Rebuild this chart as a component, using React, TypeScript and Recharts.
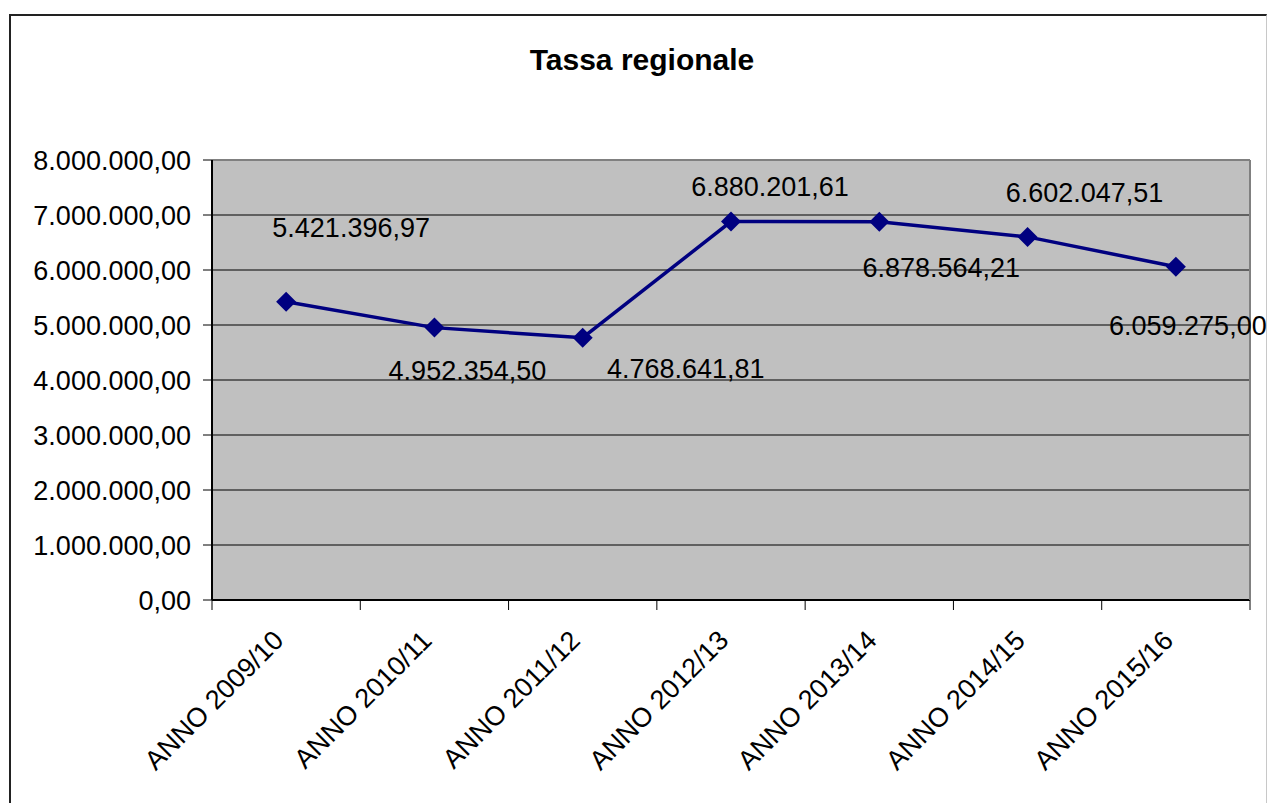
import React from "react";
import {
  LineChart,
  Line,
  XAxis,
  YAxis,
  CartesianGrid,
  ReferenceLine,
  LabelList,
} from "recharts";

const years = [
  "ANNO 2009/10",
  "ANNO 2010/11",
  "ANNO 2011/12",
  "ANNO 2012/13",
  "ANNO 2013/14",
  "ANNO 2014/15",
  "ANNO 2015/16",
];
const tassa = [
  5421396.97, 4952354.5, 4768641.81, 6880201.61, 6878564.21, 6602047.51,
  6059275.0,
];
const yTicks = [0, 1000000, 2000000, 3000000, 4000000, 5000000, 6000000, 7000000, 8000000];

// hand placed data label offsets (dx = centre, dy = baseline), as in the Excel original
const labelOffsets = [
  [65, -65],
  [33, 52],
  [103, 40],
  [39, -26],
  [62, 55],
  [57, -35],
  [12, 68],
];

const FONT = "'Liberation Sans', Arial, sans-serif";
const TEXT_SIZE = 27;
const W = 1269;
const H = 803;
const PLOT_LEFT = 212;
const PLOT_RIGHT = 1250;
const PLOT_TOP = 160;
const PLOT_BOTTOM = 600;
const BAND = (PLOT_RIGHT - PLOT_LEFT) / years.length;

const chartData = years.map((year, i) => ({ year, value: tassa[i] }));

// 1234567.8 -> "1.234.567,80"
function formatIt(v: number) {
  const [int, dec] = Math.abs(v).toFixed(2).split(".");
  const grouped = int.replace(/\B(?=(\d{3})+(?!\d))/g, ".");
  return (v < 0 ? "-" : "") + grouped + "," + dec;
}

function XTick(props: any) {
  const { x, y, payload, index } = props;
  const left = x - BAND / 2;
  const right = x + BAND / 2;
  const tx = x - 1;
  const ty = y + 42;
  return (
    <g>
      <line x1={left} y1={y} x2={left} y2={y + 10} stroke="#000" />
      {index === years.length - 1 && (
        <line x1={right} y1={y} x2={right} y2={y + 10} stroke="#000" />
      )}
      <text
        x={tx}
        y={ty}
        transform={`rotate(-45, ${tx}, ${ty})`}
        textAnchor="end"
        fontSize={TEXT_SIZE}
        fontFamily={FONT}
        fill="#000"
      >
        {payload.value}
      </text>
    </g>
  );
}

function Diamond(props: any) {
  const { cx, cy } = props;
  if (cx == null || cy == null) return null;
  const r = 10;
  return (
    <polygon
      points={`${cx},${cy - r} ${cx + r},${cy} ${cx},${cy + r} ${cx - r},${cy}`}
      fill="#000080"
    />
  );
}

function DataLabel(props: any) {
  const { x, y, value, index } = props;
  const [dx, dy] = labelOffsets[index] ?? [0, -20];
  return (
    <text
      x={x + dx}
      y={y + dy}
      textAnchor="middle"
      fontSize={TEXT_SIZE}
      fontFamily={FONT}
      fill="#000"
    >
      {formatIt(Number(value))}
    </text>
  );
}

export default function App() {
  return (
    <div
      style={{
        position: "absolute",
        left: 0,
        top: 0,
        width: W,
        height: H,
        overflow: "hidden",
        background: "#fff",
        fontFamily: FONT,
      }}
    >
      {/* chart frame */}
      <div
        style={{
          position: "absolute",
          left: 9,
          top: 14,
          width: 1258,
          height: 820,
          borderLeft: "2px solid #222",
          borderTop: "2px solid #222",
          borderRight: "1px solid #c8c8c8",
          boxSizing: "border-box",
        }}
      />
      <div
        style={{
          position: "absolute",
          left: 442,
          top: 45,
          width: 400,
          textAlign: "center",
          fontSize: 30,
          lineHeight: "30px",
          fontWeight: "bold",
          color: "#000",
        }}
      >
        Tassa regionale
      </div>
      <div style={{ position: "absolute", left: 0, top: 0 }}>
        <LineChart
          width={W}
          height={H}
          data={chartData}
          margin={{ top: PLOT_TOP, right: W - PLOT_RIGHT - 1, bottom: 0, left: 0 }}
        >
          <CartesianGrid
            vertical={false}
            stroke="#000"
            strokeOpacity={1}
            fill="#C0C0C0"
            fillOpacity={1}
          />
          <XAxis
            dataKey="year"
            height={H - PLOT_BOTTOM}
            interval={0}
            padding={{ left: BAND / 2, right: BAND / 2 }}
            axisLine={{ stroke: "#000", strokeWidth: 2 }}
            tickLine={false}
            tickSize={0}
            tickMargin={0}
            tick={(p: any) => <XTick {...p} />}
          />
          <YAxis
            width={PLOT_LEFT}
            domain={[0, 8000000]}
            ticks={yTicks}
            interval={0}
            axisLine={{ stroke: "#000", strokeWidth: 2 }}
            tickLine={{ stroke: "#000" }}
            tickSize={9}
            tickMargin={12}
            tickFormatter={(v: number) => formatIt(v)}
            tick={{ fill: "#000", fontSize: TEXT_SIZE, fontFamily: FONT }}
          />
          <YAxis
            yAxisId="frame"
            orientation="right"
            width={1}
            domain={[0, 8000000]}
            axisLine={{ stroke: "#808080", strokeWidth: 2 }}
            tick={false}
            tickLine={false}
          />
          <ReferenceLine y={8000000} stroke="#808080" strokeWidth={2} />
          <Line
            type="linear"
            dataKey="value"
            stroke="#000080"
            strokeWidth={3.5}
            dot={(p: any) => <Diamond key={p.index} {...p} />}
            activeDot={false}
            isAnimationActive={false}
          >
            <LabelList dataKey="value" content={(p: any) => <DataLabel {...p} />} />
          </Line>
        </LineChart>
      </div>
    </div>
  );
}
